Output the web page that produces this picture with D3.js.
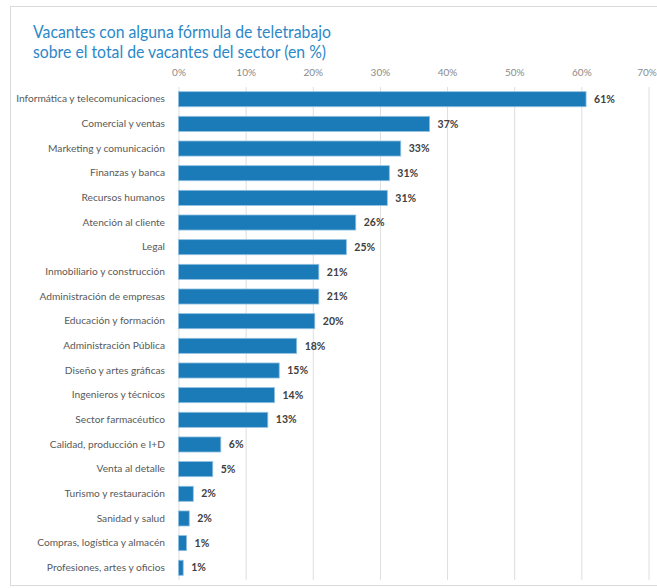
<!DOCTYPE html>
<html>
<head>
<meta charset="utf-8">
<script src="https://cdn.jsdelivr.net/npm/d3@7"></script>
<style>
  body { margin: 0; background: #fff; }
  svg { display: block; font-family: Lato, "Open Sans", sans-serif; }
</style>
</head>
<body>
<div id="container"></div>
<script>
const width = 657;
const height = 588;
const margin = { top: 87, right: 9, bottom: 8, left: 178.5 };

const titleLines = [
  "Vacantes con alguna fórmula de teletrabajo",
  "sobre el total de vacantes del sector (en %)",
];
const titleWidths = [298, 293];
const sectors = [
  "Informática y telecomunicaciones",
  "Comercial y ventas",
  "Marketing y comunicación",
  "Finanzas y banca",
  "Recursos humanos",
  "Atención al cliente",
  "Legal",
  "Inmobiliario y construcción",
  "Administración de empresas",
  "Educación y formación",
  "Administración Pública",
  "Diseño y artes gráficas",
  "Ingenieros y técnicos",
  "Sector farmacéutico",
  "Calidad, producción e I+D",
  "Venta al detalle",
  "Turismo y restauración",
  "Sanidad y salud",
  "Compras, logística y almacén",
  "Profesiones, artes y oficios",
];
// share of vacancies (%)
const shares = [60.7, 37.4, 33.1, 31.4, 31.1, 26.4, 25.0, 20.9, 20.9, 20.3,
  17.6, 15.0, 14.3, 13.3, 6.3, 5.1, 2.2, 1.6, 1.2, 0.7];
const xTicks = [0, 10, 20, 30, 40, 50, 60, 70];

const data = sectors.map((s, i) => ({ sector: s, value: shares[i] }));

const svg = d3.select("#container").append("svg")
  .attr("width", width)
  .attr("height", height);

// outer frame
svg.append("rect")
  .attr("x", 10.5)
  .attr("y", 6.5)
  .attr("width", 700)
  .attr("height", 579)
  .attr("fill", "none")
  .attr("stroke", "#d9d9d9");

svg.append("g")
  .selectAll("text")
  .data(titleLines)
  .join("text")
  .attr("x", 33)
  .attr("y", (d, i) => 38 + i * 20)
  .attr("fill", "#2b88c8")
  .attr("font-size", 18)
  .attr("textLength", (d, i) => titleWidths[i])
  .attr("lengthAdjust", "spacingAndGlyphs")
  .text((d) => d);

const x = d3.scaleLinear()
  .domain([0, 70])
  .range([margin.left, margin.left + 470]);

const y = d3.scaleBand()
  .domain(sectors)
  .range([margin.top, height - margin.bottom])
  .paddingInner(0.39)
  .paddingOuter(0.19);

// gridlines
svg.append("g")
  .selectAll("line")
  .data(xTicks)
  .join("line")
  .attr("x1", (d) => x(d) + 0.5)
  .attr("x2", (d) => x(d) + 0.5)
  .attr("y1", margin.top)
  .attr("y2", height - margin.bottom)
  .attr("stroke", "#dedede");

// top axis labels
const xAxis = svg.append("g")
  .attr("transform", `translate(0,${margin.top - 8})`)
  .call(d3.axisTop(x).tickValues(xTicks).tickFormat((d) => d + "%").tickSize(0));
xAxis.select(".domain").remove();
xAxis.selectAll("text")
  .attr("fill", "#8a8a8a")
  .attr("font-size", 10)
  .attr("font-family", "Lato, sans-serif")
  .attr("dx", (d) => (d === 70 ? -2 : 0));

// category labels
const yAxis = svg.append("g")
  .attr("transform", `translate(${margin.left - 10.5},0)`)
  .call(d3.axisLeft(y).tickSize(0));
yAxis.select(".domain").remove();
yAxis.selectAll("text")
  .attr("fill", "#595959")
  .attr("font-size", 10.2)
  .attr("font-family", "Lato, sans-serif");

// bars
svg.append("g")
  .selectAll("rect")
  .data(data)
  .join("rect")
  .attr("x", x(0))
  .attr("y", (d) => y(d.sector))
  .attr("width", (d) => x(d.value) - x(0))
  .attr("height", y.bandwidth())
  .attr("fill", "#1a7bb8")
  .attr("stroke", "#8fbfe0")
  .attr("stroke-width", 0.8);

// value labels
svg.append("g")
  .selectAll("text")
  .data(data)
  .join("text")
  .attr("x", (d) => x(d.value) + 8)
  .attr("y", (d) => y(d.sector) + y.bandwidth() / 2)
  .attr("dy", "0.35em")
  .attr("fill", "#404040")
  .attr("font-size", 10.5)
  .attr("font-weight", "bold")
  .text((d) => Math.round(d.value) + "%");
</script>
</body>
</html>
